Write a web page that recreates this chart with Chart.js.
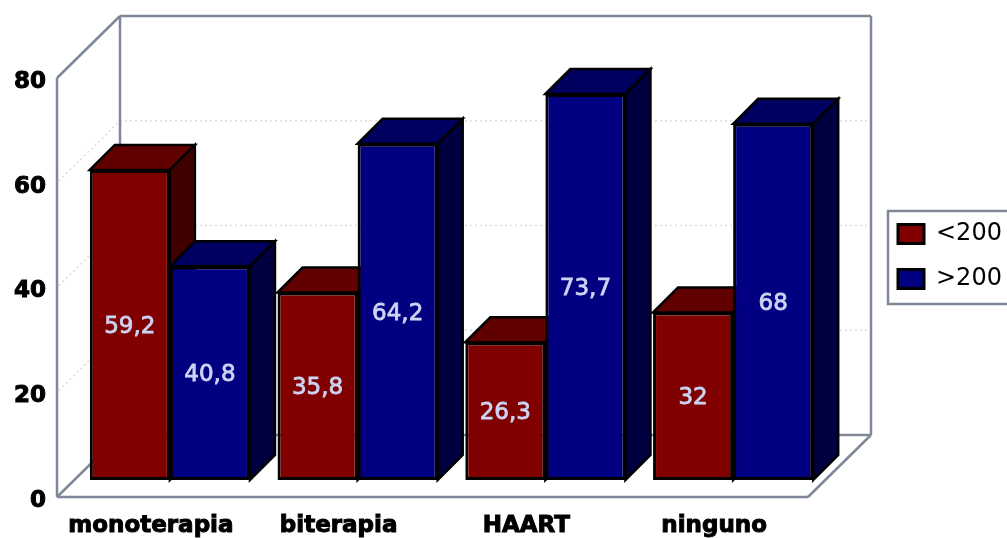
<!DOCTYPE html>
<html>
<head>
<meta charset="utf-8">
<style>html,body{margin:0;padding:0;background:#fff;overflow:hidden}canvas{display:block}</style>
<script src="https://cdn.jsdelivr.net/npm/chart.js@4"></script>
</head>
<body>
<canvas id="c" width="1007" height="538"></canvas>
<script>
const categories = ['monoterapia', 'biterapia', 'HAART', 'ninguno'];
const seriesNames = ['<200', '>200'];
const below200 = [59.2, 35.8, 26.3, 32];
const above200 = [40.8, 64.2, 73.7, 68];
const yTicks = [0, 20, 40, 60, 80];

const WALL = {dx: 63, dy: -62, color: '#7f8899', grid: '#dcdcdc'};
const BAR = {shiftX: 19, shiftY: -17, depth: 25};
const SHADES = [{top: '#600000', side: '#400000'}, {top: '#000060', side: '#000040'}];

function poly(ctx, pts, fill, stroke, w) {
  ctx.beginPath();
  pts.forEach((p, i) => i ? ctx.lineTo(p[0], p[1]) : ctx.moveTo(p[0], p[1]));
  ctx.closePath();
  if (fill) { ctx.fillStyle = fill; ctx.fill(); }
  if (stroke) { ctx.strokeStyle = stroke; ctx.lineWidth = w; ctx.lineJoin = 'miter'; ctx.stroke(); }
}
function line(ctx, a, b) { ctx.beginPath(); ctx.moveTo(a[0], a[1]); ctx.lineTo(b[0], b[1]); ctx.stroke(); }
function drawSides(ctx, meta, s) {
  const d = BAR.depth;
  meta.data.forEach(el => {
    const l = el.x - el.width / 2, r = el.x + el.width / 2;
    poly(ctx, [[l, el.y], [l + d, el.y - d], [r + d, el.y - d], [r, el.y]], s.top, '#000', 2.5);
    poly(ctx, [[r, el.y], [r + d, el.y - d], [r + d, el.base - d], [r, el.base]], s.side, '#000', 2.5);
  });
}

const scene = {
  id: 'scene',
  afterLayout(chart) {
    const l = chart.legend, p = l.options.labels.padding;
    const w = l.width, h = l.height;
    l.left = 898 - p; l.right = l.left + w; l.top = 222 - p; l.bottom = l.top + h;
  },
  beforeDatasetsDraw(chart) {
    const ctx = chart.ctx, a = chart.chartArea, y = chart.scales.y;
    const L = a.left, R = a.right, T = a.top, B = a.bottom, dx = WALL.dx, dy = WALL.dy;
    ctx.save();
    ctx.strokeStyle = WALL.grid; ctx.lineWidth = 1.5; ctx.setLineDash([2, 3]);
    yTicks.slice(1, -1).forEach(v => {
      const py = y.getPixelForValue(v);
      line(ctx, [L + 2, py - 2], [L + dx, py + dy]);
      line(ctx, [L + dx, py + dy], [R + dx, py + dy]);
    });
    ctx.setLineDash([]);
    ctx.strokeStyle = WALL.color; ctx.lineWidth = 2.5;
    line(ctx, [L, T], [L, B]);
    line(ctx, [L, T], [L + dx, T + dy]);
    line(ctx, [L + dx, T + dy], [R + dx, T + dy]);
    line(ctx, [L + dx, T + dy], [L + dx, B + dy]);
    line(ctx, [R + dx, T + dy], [R + dx, B + dy]);
    line(ctx, [L, B], [R, B]);
    line(ctx, [L, B], [L + dx, B + dy]);
    line(ctx, [R, B], [R + dx, B + dy]);
    line(ctx, [L + dx, B + dy], [R + dx, B + dy]);
    ctx.restore();
  },
  // Chart.js paints the last dataset first; the second series must sit in front
  // of the first one's side faces, so it is painted after the first instead.
  beforeDatasetDraw(chart, args) {
    if (args.index === 1) return false;
    const ctx = chart.ctx;
    ctx.save();
    ctx.translate(BAR.shiftX, BAR.shiftY);
    drawSides(ctx, args.meta, SHADES[0]);
  },
  afterDatasetDraw(chart) {
    const ctx = chart.ctx, m = chart.getDatasetMeta(1);
    drawSides(ctx, m, SHADES[1]);
    m.controller.draw();
    ctx.restore();
  },
  afterDatasetsDraw(chart) {
    const ctx = chart.ctx;
    ctx.save();
    ctx.translate(BAR.shiftX, BAR.shiftY);
    ctx.font = '23px "DejaVu Sans"';
    ctx.fillStyle = '#ccd4f4';
    ctx.strokeStyle = '#ccd4f4';
    ctx.lineWidth = 0.8;
    ctx.textAlign = 'center'; ctx.textBaseline = 'middle';
    chart.data.datasets.forEach((ds, i) => {
      chart.getDatasetMeta(i).data.forEach((el, j) => {
        const t = String(ds.data[j]).replace('.', ',');
        const py = (el.y + el.base) / 2 + 2;
        ctx.fillText(t, el.x, py);
        ctx.strokeText(t, el.x, py);
      });
    });
    ctx.restore();
    ctx.save();
    ctx.strokeStyle = WALL.color; ctx.lineWidth = 2.5;
    ctx.strokeRect(888, 211, 140, 93);
    ctx.restore();
  }
};

new Chart(document.getElementById('c'), {
  type: 'bar',
  data: {
    labels: categories,
    datasets: [
      {label: seriesNames[0], data: below200, backgroundColor: '#800000', borderColor: '#000', borderWidth: 3, borderSkipped: false, clip: false},
      {label: seriesNames[1], data: above200, backgroundColor: '#000080', borderColor: '#000', borderWidth: 3, borderSkipped: false, clip: false}
    ]
  },
  options: {
    responsive: false,
    animation: false,
    categoryPercentage: 0.853,
    barPercentage: 1,
    layout: {padding: {left: 0, right: 199, top: 78, bottom: 0}},
    plugins: {
      tooltip: {enabled: false},
      legend: {
        position: 'chartArea',
        align: 'start',
        labels: {
          boxWidth: 26, boxHeight: 19, padding: 21, color: '#000',
          font: {family: '"DejaVu Sans"', size: 24}
        }
      }
    },
    scales: {
      x: {
        grid: {display: false, drawTicks: false},
        border: {display: false},
        afterFit(s) { s.height = 41; },
        ticks: {autoSkip: false, maxRotation: 0, padding: 15, color: '#000',
          textStrokeColor: '#000', textStrokeWidth: 1,
          font: {family: '"DejaVu Sans"', size: 23, weight: 'bold'}}
      },
      y: {
        min: 0, max: 80,
        grid: {display: false, drawTicks: false},
        border: {display: false},
        afterFit(s) { s.width = 57; },
        afterBuildTicks(s) { s.ticks = yTicks.map(v => ({value: v})); },
        ticks: {padding: 11, labelOffset: 4, color: '#000',
          textStrokeColor: '#000', textStrokeWidth: 1,
          font: {family: '"DejaVu Sans"', size: 23, weight: 'bold'}}
      }
    }
  },
  plugins: [scene]
});
</script>
</body>
</html>
